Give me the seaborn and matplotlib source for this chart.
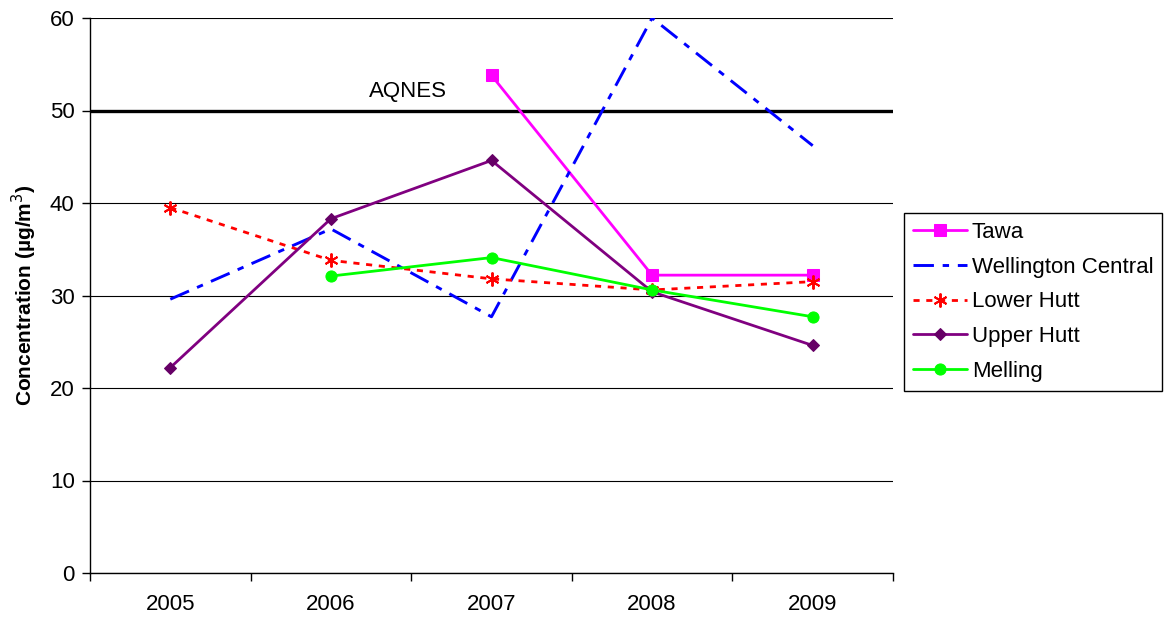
import numpy as np
import pandas as pd
import matplotlib
matplotlib.use("Agg")
import matplotlib.pyplot as plt
import seaborn as sns

years = ["2005", "2006", "2007", "2008", "2009"]
tawa = [np.nan, np.nan, 53.8, 32.2, 32.2]
wellington = [29.6, 37.2, 27.7, 60.0, 46.2]
lower_hutt = [39.5, 33.8, 31.8, 30.6, 31.5]
upper_hutt = [22.2, 38.3, 44.6, 30.4, 24.6]
melling = [np.nan, 32.1, 34.1, 30.6, 27.7]
aqnes = 50

df = pd.DataFrame({
    "pos": np.arange(len(years)),
    "Tawa": tawa,
    "Wellington Central": wellington,
    "Lower Hutt": lower_hutt,
    "Upper Hutt": upper_hutt,
    "Melling": melling,
})

sns.set_style("white")
plt.rcParams["font.family"] = ["Liberation Sans", "DejaVu Sans"]
plt.rcParams["text.color"] = "black"
plt.rcParams["axes.labelcolor"] = "black"
plt.rcParams["xtick.color"] = "black"
plt.rcParams["ytick.color"] = "black"

fig = plt.figure(figsize=(11.64, 6.19), dpi=100)
ax = fig.add_axes([90 / 1164, 46 / 619, 803 / 1164, 555 / 619])

styles = {
    "Tawa": dict(color="#FF00FF", marker="s", markersize=8, linestyle="-", linewidth=2,
                 mec="#FF00FF"),
    "Wellington Central": dict(color="#0000FF", marker=None, linestyle=(0, (7, 3, 2.2, 3)),
                               linewidth=2.1),
    "Lower Hutt": dict(color="#FF0000", marker=(6, 2, 0), markersize=10,
                       linestyle=(0, (2.2, 2.4)), linewidth=2, mew=1.4, mec="#FF0000"),
    "Upper Hutt": dict(color="#800080", marker="D", markersize=6.5, linestyle="-", linewidth=2,
                       mfc="#660066", mec="#660066"),
    "Melling": dict(color="#00FF00", marker="o", markersize=8, linestyle="-", linewidth=2,
                    mec="#00FF00"),
}

ax.axhline(aqnes, color="black", linewidth=2.4, zorder=2)
ax.text(1.48, aqnes + 0.9, "AQNES", fontsize=16, ha="center", va="bottom")

for name, st in styles.items():
    sns.lineplot(data=df, x="pos", y=name, ax=ax, label=name, **st)

ax.set_xlim(-0.5, 4.5)
ax.set_ylim(0, 60)
ax.set_yticks(range(0, 61, 10))
ax.yaxis.grid(True, color="black", linewidth=0.8)
ax.set_axisbelow(True)
ax.set_xticks(np.arange(-0.5, 4.6, 1))
ax.set_xticklabels([])
ax.set_xticks(np.arange(len(years)), minor=True)
ax.set_xticklabels(years, minor=True)
ax.tick_params(axis="x", which="major", length=6, width=1, direction="out", bottom=True)
ax.tick_params(axis="x", which="minor", length=0, pad=15, labelsize=16)
ax.tick_params(axis="y", length=6, width=1, direction="out", left=True, labelsize=16, pad=5)
ax.set_xlabel("")
ax.set_ylabel("Concentration (µg/m$^3$)", fontsize=15, fontweight="bold", labelpad=8)

for s in ["top", "right"]:
    ax.spines[s].set_visible(False)
for s in ["left", "bottom"]:
    ax.spines[s].set_color("black")
    ax.spines[s].set_linewidth(1)

handles, labels = ax.get_legend_handles_labels()
if ax.get_legend():
    ax.get_legend().remove()
leg = fig.legend(handles, labels, loc="upper left",
                 bbox_to_anchor=(904 / 1164, 1 - 213 / 619), fontsize=16,
                 frameon=True, fancybox=False, edgecolor="black", framealpha=1,
                 handlelength=2.45, handletextpad=0.2, borderpad=0.4, labelspacing=0.62,
                 borderaxespad=0)
leg.get_frame().set_linewidth(1)

fig.savefig("out.png", dpi=100)
